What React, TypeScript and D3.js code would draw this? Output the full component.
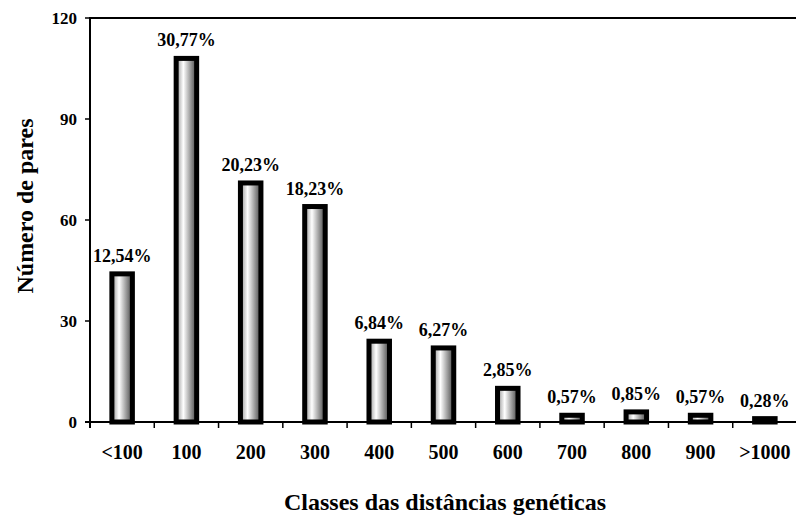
import * as d3 from "d3";

// classes das distâncias genéticas
const categories = ["<100", "100", "200", "300", "400", "500", "600", "700", "800", "900", ">1000"];
// número de pares em cada classe
const pairs = [44, 108, 71, 64, 24, 22, 10, 2, 3, 2, 1];
// rótulos de porcentagem acima das barras
const percentLabels = ["12,54%", "30,77%", "20,23%", "18,23%", "6,84%", "6,27%", "2,85%", "0,57%", "0,85%", "0,57%", "0,28%"];
const yTicks = [0, 30, 60, 90, 120];

const W = 796;
const H = 517;
const margin = { left: 90, right: -1, top: 18, bottom: 95 };
const font = "'Liberation Serif', 'Times New Roman', serif";

export default function App() {
  const x = d3
    .scaleBand()
    .domain(categories)
    .range([margin.left, W - margin.right])
    .padding(0);
  const y = d3
    .scaleLinear()
    .domain([0, 120])
    .range([H - margin.bottom, margin.top]);

  const barW = 20.5;
  const y0 = y(0);

  return (
    <svg
      width={W}
      height={H}
      style={{ position: "absolute", left: 0, top: 0, background: "#fff" }}
      fontFamily={font}
      fontWeight="bold"
    >
      <defs>
        <linearGradient id="barFill" x1="0" x2="1" y1="0" y2="0">
          <stop offset="0" stopColor="#8f8f8f" />
          <stop offset="0.35" stopColor="#ffffff" />
          <stop offset="1" stopColor="#444" />
        </linearGradient>
      </defs>

      {/* top border of the plot area */}
      <line x1={margin.left} x2={W} y1={margin.top} y2={margin.top} stroke="#000" strokeWidth={2} />

      {/* y axis */}
      <line x1={margin.left} x2={margin.left} y1={margin.top - 1} y2={y0 + 6} stroke="#000" strokeWidth={2} />
      {yTicks.map((t) => (
        <g key={t}>
          <line x1={margin.left - 5} x2={margin.left} y1={y(t)} y2={y(t)} stroke="#000" strokeWidth={1.5} />
          <text x={77} y={y(t)} dy="0.35em" textAnchor="end" fontSize={17}>
            {t}
          </text>
        </g>
      ))}

      {/* bars */}
      {pairs.map((v, i) => {
        const cx = x(categories[i])! + x.bandwidth() / 2;
        const top = y(v);
        return (
          <g key={i}>
            <rect
              x={cx - barW / 2}
              y={top}
              width={barW}
              height={y0 - top}
              fill="url(#barFill)"
              stroke="#000"
              strokeWidth={5}
            />
            <text x={cx} y={top - 12} textAnchor="middle" fontSize={18}>
              {percentLabels[i]}
            </text>
          </g>
        );
      })}

      {/* x axis */}
      <line x1={margin.left - 5} x2={W} y1={y0} y2={y0} stroke="#000" strokeWidth={2} />
      {categories.map((c) => (
        <line
          key={"t" + c}
          x1={x(c)!}
          x2={x(c)!}
          y1={y0}
          y2={y0 + 6}
          stroke="#000"
          strokeWidth={1.5}
        />
      ))}
      {categories.map((c) => (
        <text key={"l" + c} x={x(c)! + x.bandwidth() / 2} y={459} textAnchor="middle" fontSize={20}>
          {c}
        </text>
      ))}

      {/* axis titles */}
      <text x={445} y={510} textAnchor="middle" fontSize={24}>
        Classes das distâncias genéticas
      </text>
      <text transform="translate(33,206) rotate(-90)" textAnchor="middle" fontSize={24}>
        Número de pares
      </text>
    </svg>
  );
}
